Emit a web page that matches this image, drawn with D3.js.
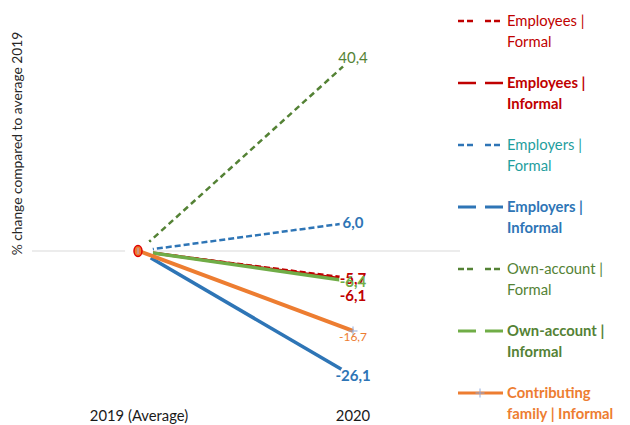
<!DOCTYPE html>
<html><head><meta charset="utf-8">
<script src="https://cdn.jsdelivr.net/npm/d3@7"></script>
<style>
html,body{margin:0;padding:0;background:#fff;}
svg text{font-family:Lato,"Open Sans",sans-serif;}
</style></head>
<body><svg id="c" width="630" height="425"></svg>
<script>
// ---- data ----
const categories = ["2019 (Average)", "2020"];
const seriesNames = ["Employees | Formal", "Employees | Informal", "Employers | Formal", "Employers | Informal", "Own-account | Formal", "Own-account | Informal", "Contributing family | Informal"];
const legendLines = [["Employees |", "Formal"], ["Employees |", "Informal"], ["Employers |", "Formal"], ["Employers |", "Informal"], ["Own-account |", "Formal"], ["Own-account |", "Informal"], ["Contributing", "family | Informal"]];
const employeesFormal = [0, -5.7];
const employeesInformal = [0, -6.1];
const employersFormal = [0, 6.0];
const employersInformal = [0, -26.1];
const ownAccountFormal = [0, 40.4];
const ownAccountInformal = [0, -6.4];
const contributingFamilyInformal = [0, -16.7];
const seriesValues = [employeesFormal, employeesInformal, employersFormal, employersInformal, ownAccountFormal, ownAccountInformal, contributingFamilyInformal];
const yTitle = "% change compared to average 2019";

// ---- styles ----
const lineColors = ["#c00000", "#c00000", "#2e75b6", "#2e75b6", "#548235", "#70ad47", "#ed7d31"];
const textColors = ["#c00000", "#c00000", "#1f9e9e", "#2e75b6", "#548235", "#548235", "#ed7d31"];
const labelColors = ["#c00000", "#c00000", "#2e75b6", "#2e75b6", "#548235", "#70ad47", "#ed7d31"];
const dashes = ["6,3", null, "6,3", null, "6,4", null, null];
const widths = [2, 3, 2.5, 3.5, 2.5, 3.5, 4];
const boldLegend = [false, true, false, true, false, true, true];
const boldLabel = [true, true, true, true, false, true, false];
const labelSize = [15, 15, 15, 15, 15, 15, 12];
const labelDy = [0, 16, 0, 0, 0, 0, 6];
const whiteMarker = [true, true, true, true, true, true, false];

const svg = d3.select("#c");
const x = d3.scalePoint().domain(categories).range([32, 460]).padding(0.5);
const y = d3.scaleLinear().domain([-30, 50]).range([394.7, 11.5]);

// gridline at zero
svg.append("line").attr("x1", 32).attr("x2", 460).attr("y1", y(0)).attr("y2", y(0))
  .attr("stroke", "#d9d9d9").attr("stroke-width", 1.2);

// y title
svg.append("text").attr("transform", `translate(22,${(y(0) + 32) / 2 + 2}) rotate(-90)`)
  .attr("text-anchor", "middle").attr("font-size", 13.8).attr("fill", "#262626").text(yTitle);

// x axis labels
svg.selectAll(".xl").data(categories).enter().append("text")
  .attr("x", d => x(d)).attr("y", 421).attr("text-anchor", "middle")
  .attr("font-size", 14.8).attr("fill", "#1a1a1a").text(d => d);

const line = d3.line().x((d, i) => x(categories[i])).y(d => y(d));
const g = svg.append("g");
seriesValues.forEach((vals, s) => {
  if (s === 6) return;
  g.append("path").attr("d", line(vals)).attr("fill", "none")
    .attr("stroke", lineColors[s]).attr("stroke-width", widths[s])
    .attr("stroke-dasharray", dashes[s]);
});
// white (hidden) markers
seriesValues.forEach((vals, s) => {
  if (!whiteMarker[s]) return;
  vals.forEach((v, i) => {
    g.append("circle").attr("cx", x(categories[i])).attr("cy", y(v)).attr("r", 13.5).attr("fill", "#fff");
  });
});
// contributing family line on top
g.append("path").attr("d", line(contributingFamilyInformal)).attr("fill", "none")
  .attr("stroke", lineColors[6]).attr("stroke-width", widths[6]);
// plus markers
function plus(sel, cx, cy, r) {
  sel.append("path").attr("d", `M${cx - r},${cy}H${cx + r}M${cx},${cy - r}V${cy + r}`)
    .attr("stroke", "#8faadc").attr("stroke-width", 1);
}
plus(g, x(categories[1]), y(contributingFamilyInformal[1]), 4.5);
// origin marker
g.append("ellipse").attr("cx", x(categories[0]) - 1).attr("cy", y(0)).attr("rx", 4).attr("ry", 5.5)
  .attr("fill", "#ed7d31").attr("stroke", "#e00000").attr("stroke-width", 1.5);
g.append("line").attr("x1", x(categories[0]) - 1).attr("x2", x(categories[0]) - 1)
  .attr("y1", y(0) - 3).attr("y2", y(0) + 3).attr("stroke", "#b4a7d6").attr("stroke-width", 1);

// data labels
const fmt = v => d3.format(".1f")(v).replace(".", ",").replace("\u2212", "-");
seriesValues.forEach((vals, s) => {
  svg.append("text").attr("x", x(categories[1])).attr("y", y(vals[1]) + labelDy[s])
    .attr("dy", "0.35em").attr("text-anchor", "middle")
    .attr("font-size", labelSize[s]).attr("font-weight", boldLabel[s] ? "bold" : "normal")
    .attr("fill", labelColors[s]).text(fmt(vals[1]));
});

// legend
const lg = svg.append("g");
seriesNames.forEach((name, s) => {
  const cy = 21 + s * 62;
  lg.append("line").attr("x1", 458).attr("x2", 503).attr("y1", cy).attr("y2", cy)
    .attr("stroke", lineColors[s]).attr("stroke-width", widths[s] > 3 ? 3 : 2.5)
    .attr("stroke-dasharray", dashes[s] ? "6,3" : null);
  if (whiteMarker[s]) lg.append("rect").attr("x", 476).attr("y", cy - 4).attr("width", 9).attr("height", 8).attr("fill", "#fff");
  else plus(lg, 480, cy, 4.5);
  legendLines[s].forEach((t, k) => {
    lg.append("text").attr("x", 507).attr("y", cy + k * 20.5).attr("dy", "0.35em")
      .attr("font-size", 14.8).attr("font-weight", boldLegend[s] ? "bold" : "normal")
      .attr("fill", textColors[s]).text(t);
  });
});
</script></body></html>
